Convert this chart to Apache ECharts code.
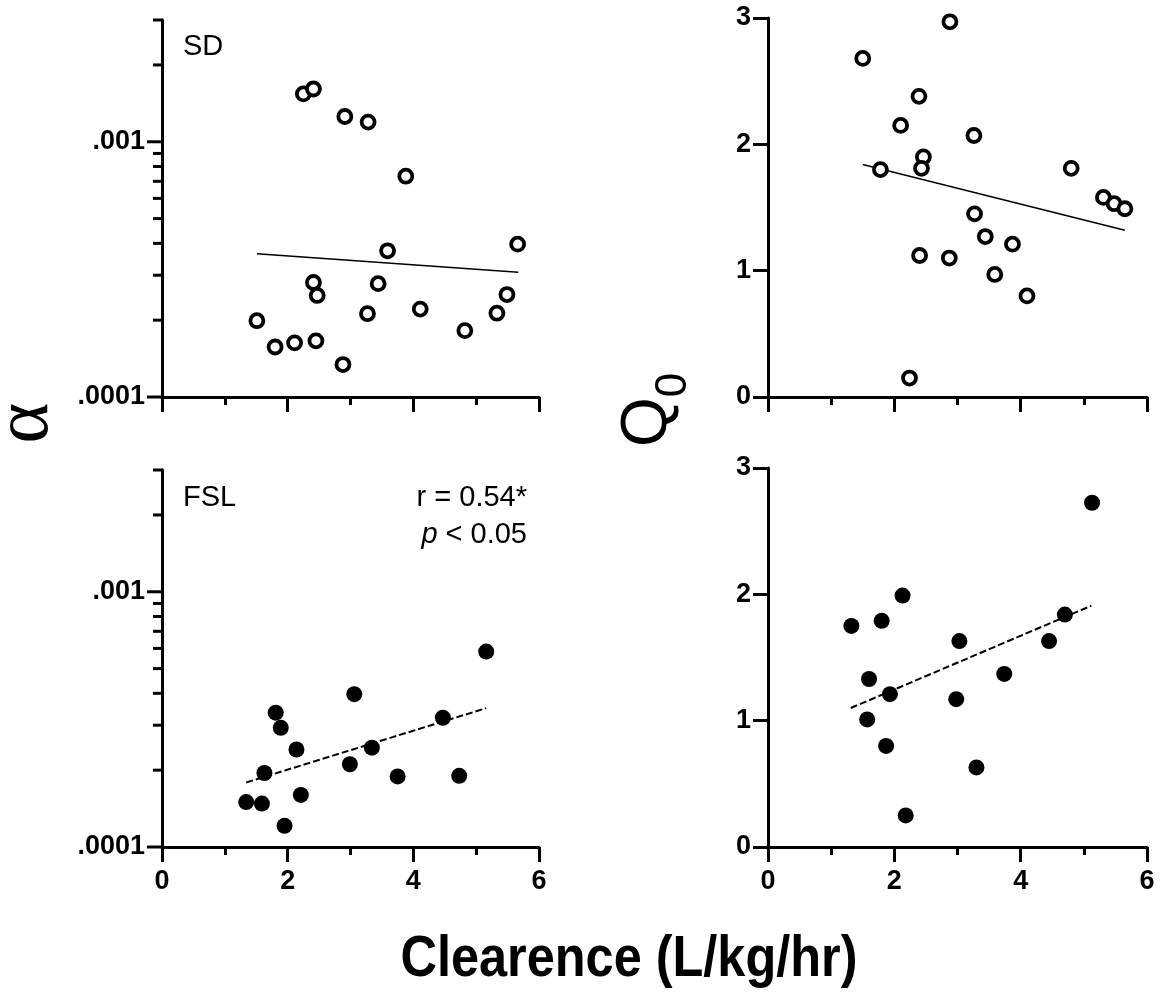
<!DOCTYPE html>
<html><head><meta charset="utf-8">
<script src="https://cdn.jsdelivr.net/npm/echarts@6/dist/echarts.min.js"></script>
<style>html,body{margin:0;padding:0;background:#fff}#c{width:1162px;height:994px}</style>
</head><body><div id="c"></div>
<script>
// ---------- data ----------
// SD group, alpha vs clearance (open circles)
const sdAlphaX = [2.25, 2.41, 2.91, 3.28, 3.88, 3.59, 5.66, 2.41, 2.47, 3.44, 1.51, 1.80, 2.11, 2.45, 2.88, 3.27, 4.11, 4.82, 5.33, 5.49];
const sdAlphaY = [0.00154, 0.00161, 0.001256, 0.001194, 0.000733, 0.000374, 0.000397, 0.000281, 0.00025, 0.000278, 0.000199, 0.000157, 0.000163, 0.000166, 0.000134, 0.000212, 0.000221, 0.000182, 0.000213, 0.000252];
// SD group, Q0 vs clearance
const sdQ0X = [2.88, 1.50, 2.39, 2.10, 3.26, 2.46, 2.43, 1.78, 4.80, 5.31, 5.48, 5.65, 3.27, 3.44, 3.87, 2.40, 2.87, 3.59, 4.10, 2.24];
const sdQ0Y = [2.97, 2.68, 2.38, 2.15, 2.07, 1.90, 1.81, 1.80, 1.81, 1.58, 1.53, 1.49, 1.45, 1.27, 1.21, 1.12, 1.10, 0.97, 0.80, 0.15];
// FSL group, alpha vs clearance (filled circles)
const fslAlphaX = [5.16, 3.06, 1.81, 1.89, 2.14, 3.34, 4.47, 2.99, 1.63, 3.75, 4.73, 2.21, 1.34, 1.59, 1.95];
const fslAlphaY = [0.000583, 0.000397, 0.000336, 0.000293, 0.000241, 0.000245, 0.000321, 0.000211, 0.000195, 0.000189, 0.00019, 0.00016, 0.00015, 0.000148, 0.000121];
// FSL group, Q0 vs clearance
const fslQ0X = [5.13, 2.13, 1.32, 1.80, 4.70, 3.03, 4.45, 1.60, 3.74, 1.93, 2.98, 1.57, 1.87, 3.30, 2.18];
const fslQ0Y = [2.725, 1.99, 1.75, 1.79, 1.84, 1.63, 1.63, 1.33, 1.37, 1.21, 1.17, 1.01, 0.80, 0.63, 0.25];
// regression lines (end points)
const sdAlphaFitX = [1.51, 5.67];
const sdAlphaFitY = [0.000364, 0.000308];
const sdQ0FitX = [1.50, 5.65];
const sdQ0FitY = [1.84, 1.32];
const fslAlphaFitX = [1.34, 5.16];
const fslAlphaFitY = [0.000179, 0.00035];
const fslQ0FitX = [1.31, 5.12];
const fslQ0FitY = [1.10, 1.91];
// ticks
const xTickLabels = ['0', '2', '4', '6'];
const alphaMajorTicks = [0.0001, 0.001];
const alphaTickLabels = ['.0001', '.001'];
const alphaMinorTicks = [0.0002, 0.0003, 0.0004, 0.0005, 0.0006, 0.0007, 0.0008, 0.0009, 0.002, 0.003];
const q0TickLabels = ['0', '1', '2', '3'];
// texts
const xTitle = 'Clearence (L/kg/hr)';
const alphaTitle = 'α';
const q0TitleMain = 'Q';
const q0TitleSub = '0';
const sdLabel = 'SD';
const fslLabel = 'FSL';
const statLine1 = 'r = 0.54*';
const statLine2P = 'p';
const statLine2Rest = ' < 0.05';

// ---------- helpers ----------
const FONT = "'Liberation Sans', Arial, Helvetica, sans-serif";
const zip = (a, b) => a.map((v, i) => [v, b[i]]);
const black = '#000';

function xAxisFor(gi, showLabels) {
  return {
    type: 'value', gridIndex: gi, min: 0, max: 6, interval: 2,
    axisLine: { show: true, lineStyle: { color: black, width: 3 } },
    axisTick: { show: true, length: 15, lineStyle: { color: black, width: 3 } },
    minorTick: { show: true, splitNumber: 2, length: 8, lineStyle: { color: black, width: 3 } },
    splitLine: { show: false },
    axisLabel: {
      show: showLabels, margin: 21, color: black, fontFamily: FONT, fontWeight: 'bold', fontSize: 27,
      formatter: v => xTickLabels[Math.round(v / 2)] ?? ''
    }
  };
}
function logYAxisFor(gi) {
  return {
    type: 'log', logBase: 10, gridIndex: gi, min: 0.0001, max: 0.003,
    axisLine: { show: true, lineStyle: { color: black, width: 3 } },
    axisTick: { show: false },
    splitLine: { show: false },
    axisLabel: {
      margin: 17, color: black, fontFamily: FONT, fontWeight: 'bold', fontSize: 27,
      formatter: v => {
        const i = alphaMajorTicks.findIndex(t => Math.abs(Math.log10(t) - Math.log10(v)) < 1e-6);
        return i >= 0 ? alphaTickLabels[i] : '';
      }
    }
  };
}
function linYAxisFor(gi) {
  return {
    type: 'value', gridIndex: gi, min: 0, max: 3, interval: 1,
    axisLine: { show: true, lineStyle: { color: black, width: 3 } },
    axisTick: { show: true, length: 15, lineStyle: { color: black, width: 3 } },
    splitLine: { show: false },
    axisLabel: {
      margin: 17, color: black, fontFamily: FONT, fontWeight: 'bold', fontSize: 27,
      formatter: v => q0TickLabels[Math.round(v)] ?? ''
    }
  };
}
function tickSeries(gi, values, len) {
  return {
    type: 'custom', xAxisIndex: gi, yAxisIndex: gi, clip: false, silent: true, z: 5,
    data: values.map(v => [0, v]),
    renderItem: (params, api) => {
      const p = api.coord([api.value(0), api.value(1)]);
      return { type: 'line', shape: { x1: p[0] - len, y1: p[1], x2: p[0] + 1, y2: p[1] },
               style: { stroke: black, lineWidth: 3 } };
    }
  };
}
function openScatter(gi, xs, ys) {
  return { type: 'scatter', xAxisIndex: gi, yAxisIndex: gi, data: zip(xs, ys), symbol: 'circle', symbolSize: 13,
    itemStyle: { color: '#fff', borderColor: black, borderWidth: 3.8, opacity: 1 }, z: 4, silent: true };
}
function filledScatter(gi, xs, ys) {
  return { type: 'scatter', xAxisIndex: gi, yAxisIndex: gi, data: zip(xs, ys), symbol: 'circle', symbolSize: 16,
    itemStyle: { color: black, opacity: 1 }, z: 4, silent: true };
}
function fitLine(gi, xs, ys, dashed) {
  return { type: 'line', xAxisIndex: gi, yAxisIndex: gi, data: zip(xs, ys), symbol: 'none', silent: true, z: 3,
    lineStyle: { color: black, width: dashed ? 2 : 1.5, type: dashed ? [7, 3] : 'solid' } };
}

const chart = echarts.init(document.getElementById('c'), null, { renderer: 'canvas' });
chart.setOption({
  animation: false,
  backgroundColor: '#fff',
  grid: [
    { left: 162, top: 20, width: 377, height: 377 },
    { left: 768, top: 18, width: 379, height: 379 },
    { left: 162, top: 470, width: 377, height: 377 },
    { left: 768, top: 468, width: 379, height: 379 }
  ],
  xAxis: [xAxisFor(0, false), xAxisFor(1, false), xAxisFor(2, true), xAxisFor(3, true)],
  yAxis: [logYAxisFor(0), linYAxisFor(1), logYAxisFor(2), linYAxisFor(3)],
  series: [
    fitLine(0, sdAlphaFitX, sdAlphaFitY, false),
    openScatter(0, sdAlphaX, sdAlphaY),
    tickSeries(0, alphaMajorTicks, 15),
    tickSeries(0, alphaMinorTicks, 9),
    fitLine(1, sdQ0FitX, sdQ0FitY, false),
    openScatter(1, sdQ0X, sdQ0Y),
    fitLine(2, fslAlphaFitX, fslAlphaFitY, true),
    filledScatter(2, fslAlphaX, fslAlphaY),
    tickSeries(2, alphaMajorTicks, 15),
    tickSeries(2, alphaMinorTicks, 9),
    fitLine(3, fslQ0FitX, fslQ0FitY, true),
    filledScatter(3, fslQ0X, fslQ0Y)
  ],
  graphic: [
    { type: 'text', x: 629, y: 960, scaleX: 0.87, style: { text: xTitle, font: `bold 58px ${FONT}`, fill: black, align: 'center', verticalAlign: 'middle' } },
    { type: 'text', x: 27, y: 423, rotation: Math.PI / 2, style: { text: alphaTitle, font: `78px 'Liberation Serif', 'DejaVu Serif', serif`, fill: black, align: 'center', verticalAlign: 'middle' } },
    { type: 'text', x: 648, y: 422, rotation: Math.PI / 2, style: { text: q0TitleMain, font: `64px ${FONT}`, fill: black, align: 'center', verticalAlign: 'middle' } },
    { type: 'text', x: 674, y: 385, rotation: Math.PI / 2, style: { text: q0TitleSub, font: `44px ${FONT}`, fill: black, align: 'center', verticalAlign: 'middle' } },
    { type: 'text', x: 183, y: 47, style: { text: sdLabel, font: `29px ${FONT}`, fill: black, align: 'left', verticalAlign: 'middle' } },
    { type: 'text', x: 183, y: 498, style: { text: fslLabel, font: `29px ${FONT}`, fill: black, align: 'left', verticalAlign: 'middle' } },
    { type: 'text', x: 527, y: 498, style: { text: statLine1, font: `29px ${FONT}`, fill: black, align: 'right', verticalAlign: 'middle' } },
    { type: 'text', x: 527, y: 535, style: {
        text: '{i|' + statLine2P + '}{n|' + statLine2Rest + '}', align: 'right', verticalAlign: 'middle', fill: black,
        rich: { i: { font: `italic 29px ${FONT}`, fill: black }, n: { font: `29px ${FONT}`, fill: black } } } }
  ]
});
</script>
</body></html>
